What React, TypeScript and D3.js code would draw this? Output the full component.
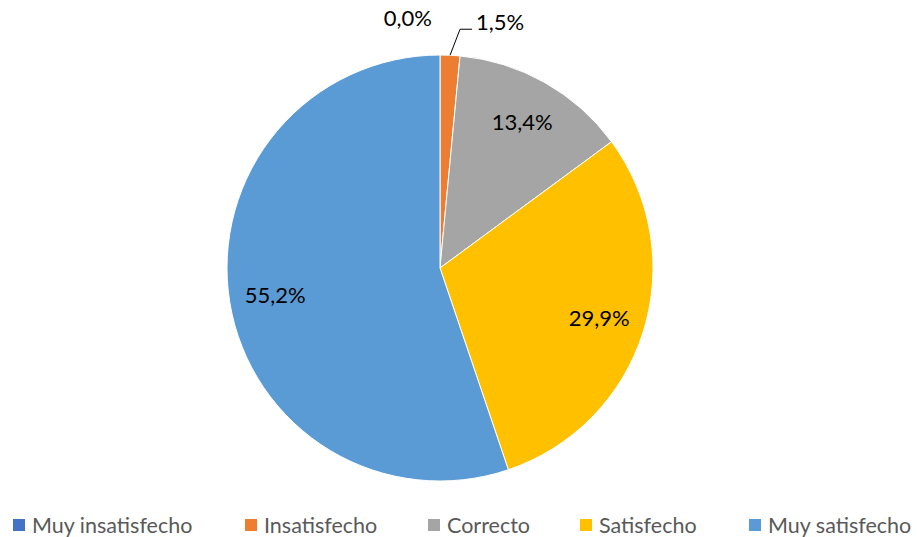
import React from "react";
import * as d3 from "d3";

const categories = ["Muy insatisfecho", "Insatisfecho", "Correcto", "Satisfecho", "Muy satisfecho"];
const values = [0.0, 1.5, 13.4, 29.9, 55.2];
const colors = ["#4472C4", "#ED7D31", "#A5A5A5", "#FFC000", "#5B9BD5"];
const legendX = [13, 245, 428, 580, 749];

const W = 917, H = 537;
const cx = 440, cy = 268, R = 213;
const FONT = "Lato, 'Open Sans', sans-serif";

const fmt = (v: number) => v.toFixed(1).replace(".", ",") + "%";

export default function App() {
  const pie = d3.pie<number>().sort(null).value((d) => d);
  const arcs = pie(values);
  const arc = d3.arc<d3.PieArcDatum<number>>().innerRadius(0).outerRadius(R);
  const labelArc = d3.arc<d3.PieArcDatum<number>>().innerRadius(167 * 2).outerRadius(0);
  const pt = (a: number, r: number) => [Math.sin(a) * r, -Math.cos(a) * r];

  return (
    <svg width={W} height={H} style={{ position: "absolute", left: 0, top: 0, fontFamily: FONT }}>
      <rect width={W} height={H} fill="#fff" />
      <g transform={`translate(${cx},${cy})`}>
        {arcs.map((a, i) => (
          <path key={i} d={arc(a) || ""} fill={colors[i]} stroke="#fff" strokeWidth={1} />
        ))}
        {arcs.map((a, i) => {
          const mid = (a.startAngle + a.endAngle) / 2;
          if (values[i] > 5) {
            const [x, y] = labelArc.centroid(a);
            return (
              <text key={i} x={x} y={y} dy="0.35em" textAnchor="middle" fontSize={22} fill="#000">
                {fmt(values[i])}
              </text>
            );
          }
          if (values[i] === 0) {
            const [x, y] = pt(mid, R + 37);
            return (
              <text key={i} x={x - 8} y={y} dy="0.35em" textAnchor="end" fontSize={22} fill="#000">
                {fmt(values[i])}
              </text>
            );
          }
          const [x0, y0] = pt(mid, R);
          const [x1, y1] = [x0 + 10, y0 - 26];
          const x2 = x1 + 12;
          return (
            <g key={i}>
              <polyline points={`${x0},${y0} ${x1},${y1} ${x2},${y1}`} fill="none" stroke="#000" strokeWidth={1} />
              <text x={x2 + 4} y={y1 - 7} dy="0.35em" textAnchor="start" fontSize={22} fill="#000">
                {fmt(values[i])}
              </text>
            </g>
          );
        })}
      </g>
      {categories.map((c, i) => (
        <g key={c}>
          <rect x={legendX[i]} y={519} width={12} height={12} fill={colors[i]} />
          <text x={legendX[i] + 19} y={525} dy="0.35em" fontSize={21.5} fill="#595959">
            {c}
          </text>
        </g>
      ))}
    </svg>
  );
}
